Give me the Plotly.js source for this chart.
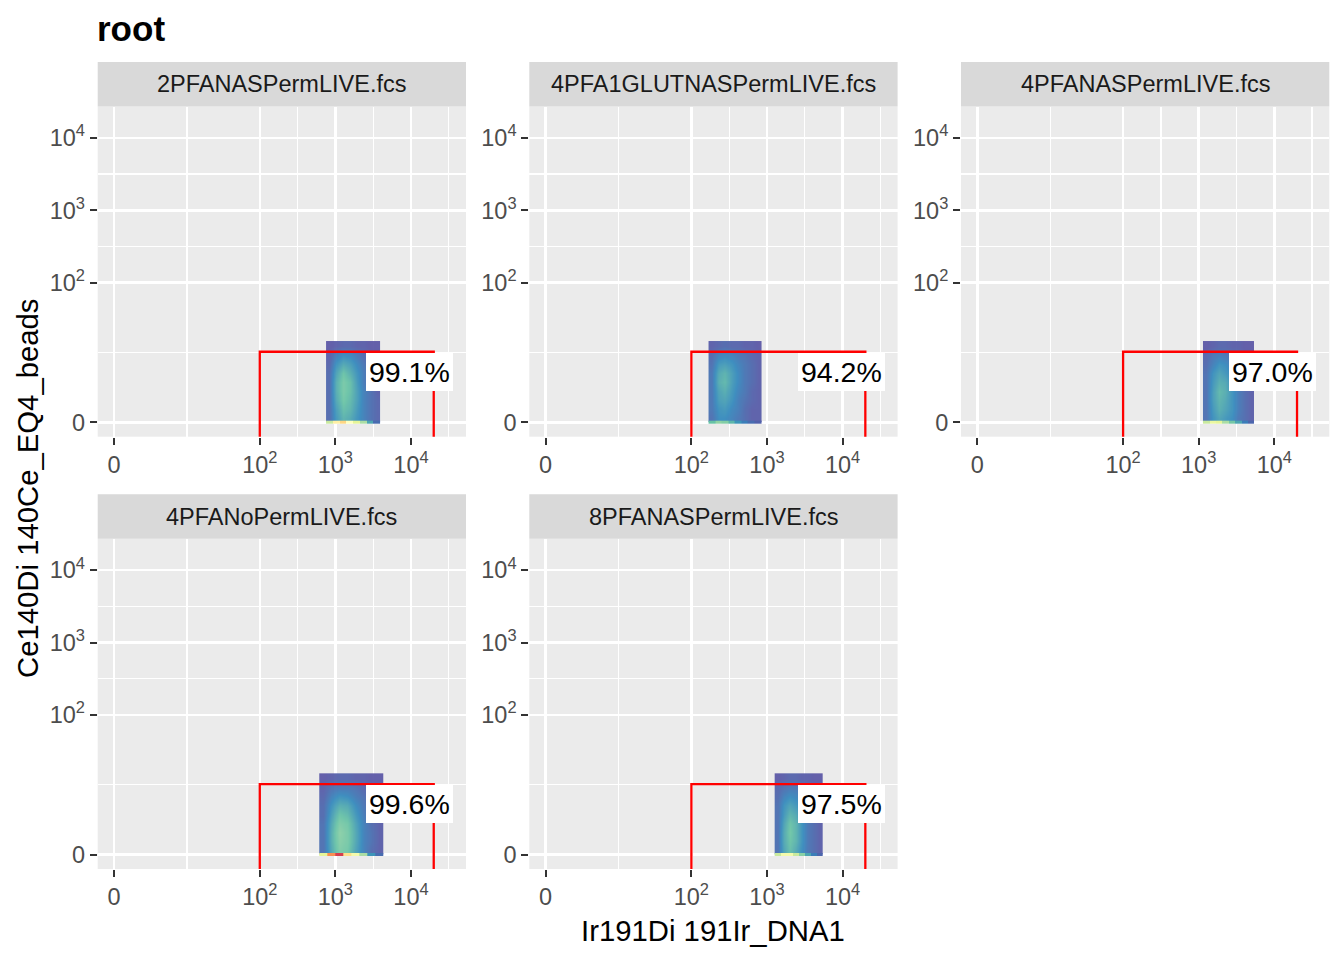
<!DOCTYPE html>
<html>
<head>
<meta charset="utf-8">
<script src="https://cdn.plot.ly/plotly-3.0.1.min.js"></script>
<style>
  html, body { margin: 0; padding: 0; background: #fff; }
  #plot { width: 1344px; height: 960px; }
</style>
</head>
<body>
<div id="plot"></div>
<script>
// sample files, one facet each
const sampleNames = ['2PFANASPermLIVE.fcs', '4PFA1GLUTNASPermLIVE.fcs', '4PFANASPermLIVE.fcs',
  '4PFANoPermLIVE.fcs', '8PFANASPermLIVE.fcs'];
const gatePercents = ['99.1%', '94.2%', '97.0%', '99.6%', '97.5%'];

// axis breaks (raw intensities) and their labels
const tickBreaks = [0, 100, 1000, 10000];
const tickLabels = ['0', '10<sup>2</sup>', '10<sup>3</sup>', '10<sup>4</sup>'];

// rectangle gate, raw units (bottom is open)
const gateX = [100, 20000];
const gateY = [-1000, 11];
const labelX = 9600;
const labelY = 5.6;

// hexbin density, in transformed (biexponential) channel units
// rows of the cloud, bottom to top
const cloudRows = [0.06, 0.185, 0.31, 0.435, 0.56, 0.685, 0.81, 0.935, 1.06];

const p1X = [2.85, 2.94, 3.03, 3.12, 3.21, 3.30, 3.39, 3.48];
const p1Z = [
  [0.04, 0.12, 0.17, 0.15, 0.11, 0.08, 0.05, 0.03],
  [0.04, 0.13, 0.19, 0.17, 0.12, 0.08, 0.05, 0.03],
  [0.04, 0.15, 0.21, 0.18, 0.13, 0.08, 0.05, 0.03],
  [0.04, 0.16, 0.22, 0.19, 0.13, 0.08, 0.05, 0.02],
  [0.04, 0.16, 0.22, 0.19, 0.12, 0.07, 0.04, 0.02],
  [0.04, 0.14, 0.20, 0.16, 0.11, 0.07, 0.04, 0.02],
  [0.03, 0.11, 0.15, 0.13, 0.09, 0.06, 0.03, 0.02],
  [0.02, 0.07, 0.10, 0.09, 0.06, 0.04, 0.02, 0.02],
  [0.01, 0.02, 0.03, 0.03, 0.02, 0.02, 0.01, 0.01]
];
const p1Zero = [0.35, 0.55, 0.62, 0.50, 0.40, 0.30, 0.15, 0.05];

const p2X = [2.20, 2.29, 2.37, 2.46, 2.55, 2.63, 2.72, 2.81];
const p2Z = [
  [0.05, 0.10, 0.10, 0.08, 0.06, 0.04, 0.02, 0.02],
  [0.06, 0.11, 0.12, 0.09, 0.07, 0.04, 0.02, 0.02],
  [0.06, 0.13, 0.14, 0.11, 0.07, 0.05, 0.03, 0.02],
  [0.06, 0.14, 0.16, 0.12, 0.08, 0.06, 0.03, 0.02],
  [0.06, 0.16, 0.18, 0.13, 0.09, 0.06, 0.04, 0.02],
  [0.06, 0.15, 0.17, 0.13, 0.09, 0.06, 0.04, 0.02],
  [0.05, 0.12, 0.13, 0.11, 0.08, 0.06, 0.04, 0.02],
  [0.04, 0.08, 0.09, 0.08, 0.06, 0.05, 0.03, 0.02],
  [0.02, 0.03, 0.04, 0.03, 0.03, 0.02, 0.02, 0.01]
];
const p2Zero = [0.20, 0.26, 0.24, 0.18, 0.12, 0.08, 0.05, 0.03];

const p3X = [3.03, 3.12, 3.20, 3.28, 3.37, 3.45, 3.54, 3.62];
const p3Z = [
  [0.05, 0.11, 0.14, 0.12, 0.10, 0.06, 0.04, 0.02],
  [0.05, 0.12, 0.16, 0.14, 0.11, 0.07, 0.04, 0.02],
  [0.05, 0.13, 0.17, 0.15, 0.11, 0.07, 0.04, 0.02],
  [0.05, 0.13, 0.18, 0.16, 0.11, 0.07, 0.04, 0.02],
  [0.05, 0.12, 0.16, 0.15, 0.10, 0.06, 0.04, 0.02],
  [0.05, 0.11, 0.14, 0.12, 0.09, 0.06, 0.03, 0.02],
  [0.04, 0.08, 0.11, 0.10, 0.07, 0.05, 0.03, 0.02],
  [0.03, 0.06, 0.07, 0.06, 0.05, 0.04, 0.02, 0.02],
  [0.01, 0.02, 0.03, 0.03, 0.02, 0.02, 0.01, 0.01]
];
const p3Zero = [0.35, 0.42, 0.40, 0.30, 0.22, 0.15, 0.08, 0.04];

const p4X = [2.77, 2.88, 2.98, 3.09, 3.19, 3.30, 3.40, 3.51];
const p4Z = [
  [0.05, 0.15, 0.23, 0.21, 0.14, 0.08, 0.04, 0.02],
  [0.05, 0.16, 0.24, 0.22, 0.15, 0.08, 0.05, 0.02],
  [0.05, 0.16, 0.25, 0.22, 0.15, 0.08, 0.05, 0.02],
  [0.05, 0.15, 0.23, 0.21, 0.14, 0.08, 0.04, 0.02],
  [0.04, 0.13, 0.20, 0.18, 0.12, 0.07, 0.04, 0.02],
  [0.04, 0.11, 0.16, 0.15, 0.10, 0.06, 0.03, 0.02],
  [0.03, 0.08, 0.11, 0.10, 0.07, 0.05, 0.03, 0.02],
  [0.02, 0.05, 0.06, 0.06, 0.05, 0.03, 0.02, 0.02],
  [0.01, 0.02, 0.03, 0.03, 0.02, 0.02, 0.01, 0.01]
];
const p4Zero = [0.40, 0.75, 0.90, 0.60, 0.45, 0.30, 0.12, 0.05];

const p5X = [3.07, 3.15, 3.23, 3.31, 3.39, 3.47, 3.55, 3.63];
const p5Z = [
  [0.05, 0.14, 0.19, 0.15, 0.10, 0.06, 0.04, 0.02],
  [0.05, 0.15, 0.20, 0.17, 0.11, 0.06, 0.04, 0.02],
  [0.05, 0.15, 0.21, 0.17, 0.11, 0.06, 0.04, 0.02],
  [0.05, 0.14, 0.20, 0.17, 0.11, 0.06, 0.04, 0.02],
  [0.05, 0.12, 0.17, 0.15, 0.10, 0.06, 0.04, 0.02],
  [0.05, 0.11, 0.14, 0.12, 0.08, 0.06, 0.03, 0.02],
  [0.04, 0.08, 0.10, 0.09, 0.07, 0.05, 0.03, 0.02],
  [0.03, 0.05, 0.06, 0.06, 0.05, 0.03, 0.02, 0.02],
  [0.01, 0.02, 0.03, 0.03, 0.02, 0.02, 0.01, 0.01]
];
const p5Zero = [0.35, 0.45, 0.45, 0.35, 0.25, 0.15, 0.08, 0.04];

const panelX = [p1X, p2X, p3X, p4X, p5X];
const panelZ = [p1Z, p2Z, p3Z, p4Z, p5Z];
const panelZero = [p1Zero, p2Zero, p3Zero, p4Zero, p5Zero];

// ---- transform & layout helpers ----
const W = 1344, H = 960;
function biex(v) { return Math.asinh(v / 2.36) / Math.LN10; }

// reversed brewer Spectral, as ggcyto uses for hex fill
const spectral = ['#5E4FA2', '#3288BD', '#66C2A5', '#ABDDA4', '#E6F598', '#FFFFBF',
  '#FEE08B', '#FDAE61', '#F46D43', '#D53E4F', '#9E0142'];
const fillScale = spectral.map((c, i) => [i / (spectral.length - 1), c]);

const colPx = [[97.7, 466], [529.3, 897.6], [961, 1329.3]];
const rowPx = [[106.5, 436.7], [538.8, 869]];
const stripH = 44.5;
const font = 'Liberation Sans, Arial, sans-serif';

const tickVals = tickBreaks.map(biex);
const minorVals = [];
for (let i = 1; i < tickVals.length; i++) minorVals.push((tickVals[i - 1] + tickVals[i]) / 2);
minorVals.push(tickVals[3] + (tickVals[3] - tickVals[2]) / 2);

const traces = [];
const layout = {
  width: W, height: H,
  margin: {l: 0, r: 0, t: 0, b: 0},
  paper_bgcolor: '#ffffff',
  plot_bgcolor: '#EBEBEB',
  showlegend: false,
  font: {family: font, color: '#000'},
  title: {
    text: '<b>root</b>', xref: 'paper', yref: 'paper',
    x: 97 / W, xanchor: 'left', y: 1 - 29 / H, yanchor: 'middle',
    font: {size: 35, color: '#000', family: font}
  },
  shapes: [],
  annotations: []
};

sampleNames.forEach((name, i) => {
  const col = colPx[i % 3], row = rowPx[Math.floor(i / 3)];
  const n = i === 0 ? '' : String(i + 1);
  const xa = 'x' + n, ya = 'y' + n;

  const axisCommon = {
    tickmode: 'array', tickvals: tickVals, ticktext: tickLabels,
    ticks: 'outside', ticklen: 7, tickwidth: 2, tickcolor: '#333333',
    tickfont: {size: 23.5, color: '#4D4D4D', family: font},
    showgrid: true, gridcolor: '#FFFFFF', gridwidth: 2.5,
    minor: {tickmode: 'array', tickvals: minorVals, showgrid: true, gridcolor: '#FFFFFF', gridwidth: 1.3, ticks: ''},
    zeroline: false, showline: false, fixedrange: true
  };
  layout['xaxis' + n] = Object.assign({}, axisCommon, {
    domain: [col[0] / W, col[1] / W],
    range: [-0.216, 4.656], anchor: ya
  });
  layout['yaxis' + n] = Object.assign({}, axisCommon, {
    domain: [1 - row[1] / H, 1 - row[0] / H],
    range: [-0.199, 4.362], anchor: xa
  });

  // hexbin cloud
  traces.push({
    type: 'heatmap', x: panelX[i], y: cloudRows, z: panelZ[i],
    zsmooth: 'best', colorscale: fillScale, zmin: 0, zmax: 1, opacity: 0.93,
    showscale: false, hoverinfo: 'skip', xaxis: xa, yaxis: ya
  });
  // events piled on zero
  traces.push({
    type: 'heatmap', x: panelX[i], y: [-0.022, 0.022], z: [panelZero[i]],
    colorscale: fillScale, zmin: 0, zmax: 1,
    showscale: false, hoverinfo: 'skip', xaxis: xa, yaxis: ya
  });
  // gate outline
  traces.push({
    type: 'scatter', mode: 'lines',
    x: [gateX[0], gateX[0], gateX[1], gateX[1]].map(biex),
    y: [gateY[0], gateY[1], gateY[1], gateY[0]].map(biex),
    line: {color: '#FF0000', width: 2.3},
    hoverinfo: 'skip', xaxis: xa, yaxis: ya
  });

  layout.annotations.push({
    xref: xa, yref: ya, x: biex(labelX), y: biex(labelY),
    text: gatePercents[i], showarrow: false,
    font: {size: 28.5, color: '#000', family: font},
    bgcolor: '#FFFFFF', borderpad: 3, borderwidth: 0
  });

  // facet strip
  layout.shapes.push({
    type: 'rect', xref: 'paper', yref: 'paper',
    x0: col[0] / W, x1: col[1] / W,
    y0: 1 - row[0] / H, y1: 1 - (row[0] - stripH) / H,
    fillcolor: '#D9D9D9', line: {width: 0}, layer: 'below'
  });
  layout.annotations.push({
    xref: 'paper', yref: 'paper',
    x: (col[0] + col[1]) / 2 / W, y: 1 - (row[0] - stripH / 2) / H,
    text: name, showarrow: false, xanchor: 'center', yanchor: 'middle',
    font: {size: 23.5, color: '#1A1A1A', family: font}
  });
});

// axis titles
layout.annotations.push({
  xref: 'paper', yref: 'paper', x: 713 / W, y: 1 - 930 / H,
  text: 'Ir191Di 191Ir_DNA1', showarrow: false, xanchor: 'center', yanchor: 'middle',
  font: {size: 29.3, color: '#000', family: font}
});
layout.annotations.push({
  xref: 'paper', yref: 'paper', x: 27 / W, y: 1 - 488 / H,
  text: 'Ce140Di 140Ce_EQ4_beads', showarrow: false, textangle: -90,
  xanchor: 'center', yanchor: 'middle',
  font: {size: 29.3, color: '#000', family: font}
});

Plotly.newPlot('plot', traces, layout, {displayModeBar: false, staticPlot: true});
</script>
</body>
</html>
